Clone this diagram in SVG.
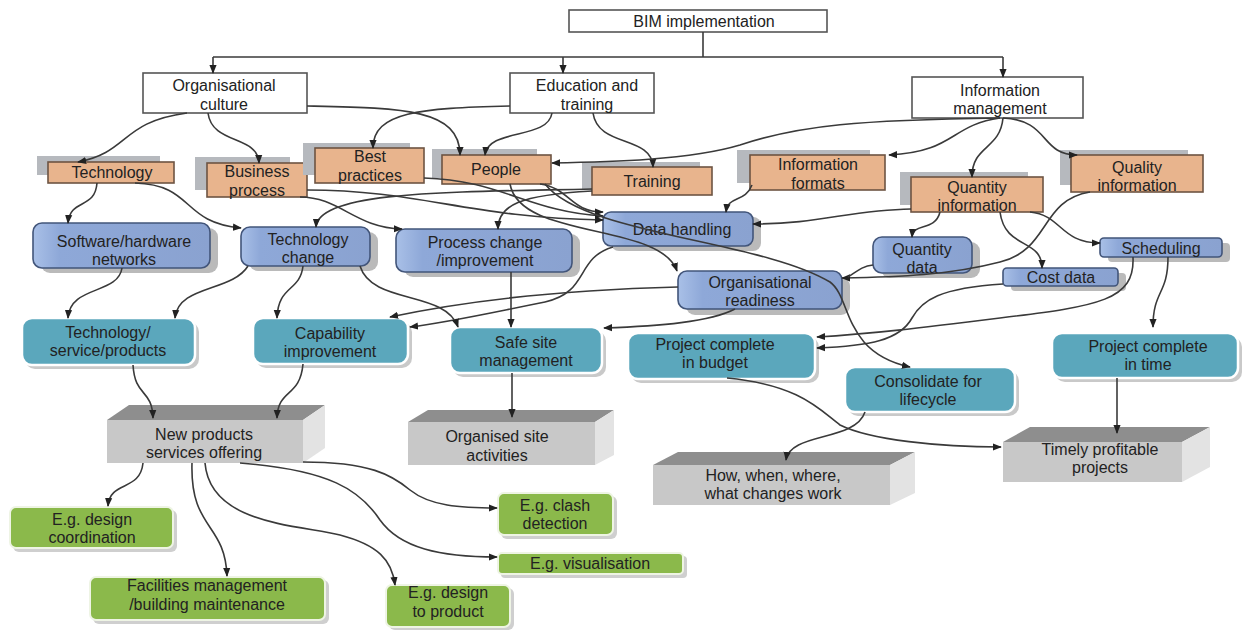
<svg xmlns="http://www.w3.org/2000/svg" width="1250" height="630" viewBox="0 0 1250 630">
<style>
text{font-family:"Liberation Sans",Arial,sans-serif;font-size:16px;fill:#222;text-anchor:middle}
.w{fill:#fff;stroke:#555;stroke-width:1.6}
.os{fill:#b6b9be}
.o{fill:#e8b48d;stroke:#6d5443;stroke-width:1.6}
.bs{fill:#a9a9a9;opacity:.8}
.b{fill:url(#gb);stroke:#42557a;stroke-width:1.6}
.ts{fill:#c9c9c9}
.t{fill:#5ba7bc;stroke:#fff;stroke-width:2.5}
.gs{fill:#cfcfcf}
.g{fill:#8bb94b;stroke:#eef4e4;stroke-width:2}
.gf{fill:#c8c8c8}
.gt{fill:#8e8e8e}
.gr{fill:#e3e3e3}
.c path{fill:none;stroke:#3a3a3a;stroke-width:1.6}
.c .a{marker-end:url(#ah)}
</style>
<defs>
<linearGradient id="gb" x1="0" y1="0" x2="1" y2="0">
<stop offset="0" stop-color="#a9c0e7"/>
<stop offset="0.15" stop-color="#8ea8d8"/>
<stop offset="1" stop-color="#8aa2d0"/>
</linearGradient>
<marker id="ah" viewBox="0 0 10 10" refX="9" refY="5" markerWidth="9" markerHeight="9" orient="auto" markerUnits="userSpaceOnUse">
<path d="M0,1 L10,5 L0,9 z" fill="#222"/>
</marker>
</defs>
<rect width="1250" height="630" fill="#fff"/>

<g id="n-bim"><rect class="w" x="569" y="10" width="258" height="22"/><text x="704" y="27">BIM implementation</text></g>
<g id="n-oc"><rect class="w" x="143" y="73" width="164" height="40"/><text x="224" y="91">Organisational</text><text x="224" y="109.5">culture</text></g>
<g id="n-edu"><rect class="w" x="510" y="73" width="144" height="40"/><text x="587" y="91">Education and</text><text x="587" y="109.5">training</text></g>
<g id="n-im"><rect class="w" x="912" y="77" width="171" height="41"/><text x="1000" y="96">Information</text><text x="1000" y="114">management</text></g>

<g id="n-tech"><rect class="os" x="37" y="156" width="123" height="19"/><rect class="o" x="48" y="162" width="126" height="21"/><text x="112" y="178">Technology</text></g>
<g id="n-bp"><rect class="os" x="195" y="157" width="95" height="33"/><rect class="o" x="207" y="163" width="100" height="34"/><text x="257" y="177">Business</text><text x="257" y="195.5">process</text></g>
<g id="n-best"><rect class="os" x="303" y="143" width="107" height="32"/><rect class="o" x="315" y="148" width="109" height="35"/><text x="370" y="162">Best</text><text x="370" y="180.5">practices</text></g>
<g id="n-people"><rect class="os" x="432" y="149" width="105" height="29"/><rect class="o" x="442" y="155" width="109" height="29"/><text x="496" y="175">People</text></g>
<g id="n-train"><rect class="os" x="582" y="162" width="118" height="28"/><rect class="o" x="592" y="167" width="120" height="28"/><text x="652" y="187">Training</text></g>
<g id="n-if"><rect class="os" x="737" y="150" width="133" height="33"/><rect class="o" x="750" y="155" width="135" height="35"/><text x="818" y="170">Information</text><text x="818" y="188.5">formats</text></g>
<g id="n-qi"><rect class="os" x="900" y="172" width="128" height="33"/><rect class="o" x="911" y="177" width="132" height="35"/><text x="977" y="192.5">Quantity</text><text x="977" y="211">information</text></g>
<g id="n-quali"><rect class="os" x="1060" y="150" width="128" height="35"/><rect class="o" x="1071" y="155" width="132" height="37"/><text x="1137" y="172.5">Quality</text><text x="1137" y="191">information</text></g>

<g id="n-sw"><rect class="bs" x="41" y="228" width="177" height="45" rx="9"/><rect class="b" x="33" y="223" width="177" height="45" rx="9"/><text x="124" y="246.5">Software/hardware</text><text x="124" y="265">networks</text></g>
<g id="n-tc"><rect class="bs" x="249" y="232" width="129" height="39" rx="9"/><rect class="b" x="241" y="227" width="129" height="39" rx="9"/><text x="308" y="244.5">Technology</text><text x="308" y="263">change</text></g>
<g id="n-pc"><rect class="bs" x="404" y="234" width="176" height="43" rx="9"/><rect class="b" x="396" y="229" width="176" height="43" rx="9"/><text x="485" y="247.5">Process change</text><text x="485" y="266">/improvement</text></g>
<g id="n-dh"><rect class="bs" x="611" y="217" width="150" height="34" rx="8"/><rect class="b" x="603" y="212" width="150" height="34" rx="8"/><text x="682" y="234.5">Data handling</text></g>
<g id="n-or"><rect class="bs" x="686" y="277" width="164" height="38" rx="9"/><rect class="b" x="678" y="271" width="164" height="38" rx="9"/><text x="760" y="287.5">Organisational</text><text x="760" y="306">readiness</text></g>
<g id="n-qd"><rect class="bs" x="881" y="242" width="99" height="36" rx="9"/><rect class="b" x="873" y="237" width="99" height="36" rx="9"/><text x="922" y="254.5">Quantity</text><text x="922" y="273">data</text></g>
<g id="n-cd"><rect class="bs" x="1011" y="273" width="115" height="18" rx="4"/><rect class="b" x="1003" y="268" width="115" height="18" rx="4"/><text x="1061" y="283">Cost data</text></g>
<g id="n-sch"><rect class="bs" x="1108" y="243" width="122" height="19" rx="4"/><rect class="b" x="1100" y="238" width="122" height="19" rx="4"/><text x="1161" y="253.5">Scheduling</text></g>

<g id="n-tsp"><rect class="ts" x="25" y="322" width="174" height="47" rx="10"/><rect class="t" x="22" y="318" width="173" height="47" rx="10"/><text x="108" y="337.5">Technology/</text><text x="108" y="356">service/products</text></g>
<g id="n-cap"><rect class="ts" x="256" y="322" width="156" height="46" rx="10"/><rect class="t" x="253" y="318" width="155" height="46" rx="10"/><text x="330" y="338.5">Capability</text><text x="330" y="357">improvement</text></g>
<g id="n-ssm"><rect class="ts" x="453" y="331" width="153" height="46" rx="10"/><rect class="t" x="450" y="327" width="152" height="46" rx="10"/><text x="526" y="347.5">Safe site</text><text x="526" y="366">management</text></g>
<g id="n-pcb"><rect class="ts" x="631" y="337" width="188" height="46" rx="10"/><rect class="t" x="628" y="333" width="187" height="46" rx="10"/><text x="715" y="349.5">Project complete</text><text x="715" y="368">in budget</text></g>
<g id="n-con"><rect class="ts" x="848" y="371" width="171" height="45" rx="10"/><rect class="t" x="845" y="367" width="170" height="45" rx="10"/><text x="928" y="386.5">Consolidate for</text><text x="928" y="405">lifecycle</text></g>
<g id="n-pct"><rect class="ts" x="1055" y="337" width="187" height="45" rx="10"/><rect class="t" x="1052" y="333" width="186" height="45" rx="10"/><text x="1148" y="351.5">Project complete</text><text x="1148" y="370">in time</text></g>

<g id="n-np"><polygon class="gt" points="107,420 129,405 325,405 303,420"/><polygon class="gr" points="303,420 325,405 325,448 303,463"/><rect class="gf" x="107" y="420" width="196" height="43"/><text x="204" y="439.5">New products</text><text x="204" y="458">services offering</text></g>
<g id="n-osa"><polygon class="gt" points="408,422 428,410 614,410 595,422"/><polygon class="gr" points="595,422 614,410 614,455 595,465"/><rect class="gf" x="408" y="422" width="187" height="43"/><text x="497" y="442">Organised site</text><text x="497" y="460.5">activities</text></g>
<g id="n-how"><polygon class="gt" points="653,465 678,452 915,452 890,465"/><polygon class="gr" points="890,465 915,452 915,493 890,505"/><rect class="gf" x="653" y="465" width="237" height="40"/><text x="773" y="480.5">How, when, where,</text><text x="773" y="499">what changes work</text></g>
<g id="n-tpp"><polygon class="gt" points="1003,442 1030,427 1210,427 1182,442"/><polygon class="gr" points="1182,442 1210,427 1210,467 1182,482"/><rect class="gf" x="1003" y="442" width="179" height="40"/><text x="1100" y="454.5">Timely profitable</text><text x="1100" y="473">projects</text></g>

<g id="n-edc"><rect class="gs" x="13" y="510" width="164" height="42" rx="6"/><rect class="g" x="10" y="507" width="163" height="41" rx="6"/><text x="92" y="524.5">E.g. design</text><text x="92" y="543">coordination</text></g>
<g id="n-fm"><rect class="gs" x="93" y="580" width="236" height="44" rx="6"/><rect class="g" x="90" y="577" width="235" height="43" rx="6"/><text x="207" y="591">Facilities management</text><text x="207" y="609.5">/building maintenance</text></g>
<g id="n-edp"><rect class="gs" x="389" y="588" width="125" height="42" rx="6"/><rect class="g" x="386" y="585" width="124" height="42" rx="6"/><text x="448" y="598">E.g. design</text><text x="448" y="616.5">to product</text></g>
<g id="n-clash"><rect class="gs" x="501" y="496" width="116" height="43" rx="6"/><rect class="g" x="498" y="493" width="115" height="42" rx="6"/><text x="555" y="510.5">E.g. clash</text><text x="555" y="529">detection</text></g>
<g id="n-vis"><rect class="gs" x="501" y="556" width="186" height="22" rx="4"/><rect class="g" x="498" y="553" width="185" height="21" rx="4"/><text x="590" y="569">E.g. visualisation</text></g>

<g id="connectors" class="c">
<path d="M703,32 V57"/>
<path d="M213,57 H1003"/>
<path class="a" d="M213,57 V73"/>
<path class="a" d="M563,57 V73"/>
<path class="a" d="M1003,57 V77"/>
<path class="a" d="M187,113 C120,122 130,152 78,162"/>
<path class="a" d="M208,113 C212,145 258,135 259,163"/>
<path class="a" d="M307,106 C400,108 460,108 460,155"/>
<path class="a" d="M510,106 C420,108 373,112 373,148"/>
<path class="a" d="M552,113 C548,140 488,128 485,155"/>
<path class="a" d="M593,113 C598,148 652,135 653,167"/>
<path class="a" d="M1000,118 C860,120 800,125 740,145 C690,160 610,162 552,163"/>
<path class="a" d="M1000,118 C950,125 955,152 889,155"/>
<path class="a" d="M1003,118 C1000,150 972,145 972,177"/>
<path class="a" d="M1003,118 C1050,120 1040,155 1077,155"/>
<path class="a" d="M97,183 C95,210 70,198 68,223"/>
<path class="a" d="M135,183 C195,185 180,222 241,228"/>
<path class="a" d="M300,197 C340,197 355,228 402,229"/>
<path class="a" d="M307,190 C420,190 470,218 603,220"/>
<path class="a" d="M424,178 C500,180 530,212 603,216"/>
<path class="a" d="M540,184 C570,188 570,212 603,212"/>
<path class="a" d="M592,189 C460,192 318,190 316,227"/>
<path class="a" d="M592,191 C520,195 498,205 498,229"/>
<path class="a" d="M510,184 C520,240 660,222 677,271"/>
<path class="a" d="M752,185 C745,203 728,195 726,212"/>
<path class="a" d="M911,209 C850,210 820,224 753,224"/>
<path class="a" d="M940,212 C935,232 913,222 912,237"/>
<path class="a" d="M1000,212 C1005,250 1042,238 1042,268"/>
<path class="a" d="M1030,212 C1062,215 1060,243 1100,243"/>
<path class="a" d="M1090,192 C1040,200 1050,250 1000,262 C950,275 900,277 842,278"/>
<path d="M873,265 C862,266 856,272 848,277"/>
<path class="a" d="M545,184 C585,235 760,240 830,282 C852,298 842,352 910,367"/>
<path class="a" d="M613,247 C575,258 590,292 545,302 C480,315 450,322 410,327"/>
<path class="a" d="M678,287 C560,290 460,302 390,317"/>
<path class="a" d="M248,266 C232,292 178,285 175,318"/>
<path class="a" d="M303,266 C300,292 278,285 277,318"/>
<path class="a" d="M122,268 C118,295 70,285 68,318"/>
<path class="a" d="M360,266 C372,305 445,290 458,327"/>
<path class="a" d="M511,272 V327"/>
<path class="a" d="M735,309 C710,322 660,326 604,328"/>
<path class="a" d="M512,373 V417"/>
<path class="a" d="M1003,284 C940,288 922,300 912,318 C900,340 870,346 817,348"/>
<path class="a" d="M1133,257 C1135,300 1100,306 1000,318 C920,328 870,334 817,337"/>
<path class="a" d="M1168,257 C1168,295 1153,290 1153,327"/>
<path class="a" d="M1117,378 V433"/>
<path class="a" d="M727,378 C800,385 820,410 840,425 C870,440 940,447 1001,447"/>
<path class="a" d="M865,412 C855,442 790,432 786,460"/>
<path class="a" d="M133,365 C135,398 152,388 153,418"/>
<path class="a" d="M303,364 C300,398 278,388 277,418"/>
<path class="a" d="M143,463 C140,492 110,480 108,506"/>
<path class="a" d="M192,463 C190,530 225,522 227,576"/>
<path class="a" d="M205,463 C210,525 300,525 340,535 C378,545 392,560 395,585"/>
<path class="a" d="M240,463 C330,470 360,490 380,520 C400,548 440,557 497,557"/>
<path class="a" d="M303,462 C370,462 392,475 410,490 C430,506 460,508 497,508"/>
</g>
</svg>
